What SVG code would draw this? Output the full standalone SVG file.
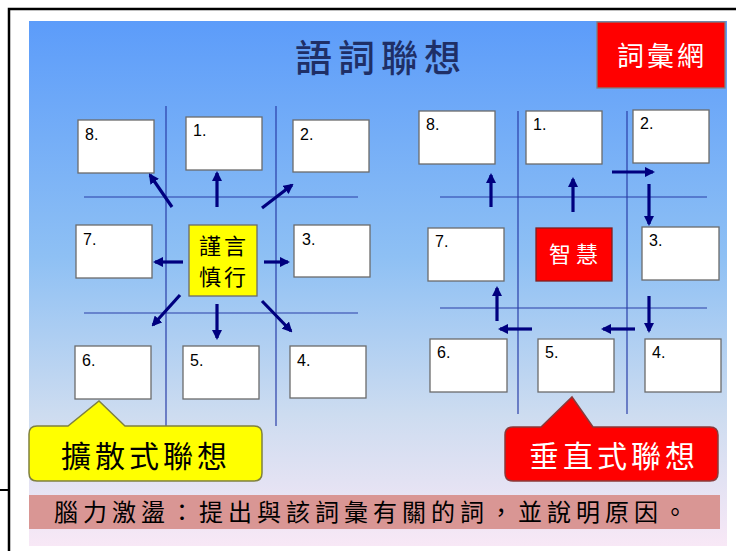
<svg xmlns="http://www.w3.org/2000/svg" width="736" height="551" viewBox="0 0 736 551">
<defs>
<linearGradient id="bg" x1="0" y1="0" x2="0" y2="1">
<stop offset="0" stop-color="#5c9cfa"/>
<stop offset="0.45" stop-color="#8ec0f4"/>
<stop offset="0.75" stop-color="#cddcf0"/>
<stop offset="1" stop-color="#f8e8f6"/>
</linearGradient>
<marker id="ah" viewBox="0 0 10 10" refX="8" refY="5" markerWidth="3.2" markerHeight="3.2" orient="auto" markerUnits="strokeWidth">
<path d="M0,0 L10,5 L0,10 z" fill="#00007f"/>
</marker>
<style>
.box{fill:#fff;stroke:#6b6b6b;stroke-width:1.3}
.num{font-family:"Liberation Sans",Arial,sans-serif;font-size:16px;fill:#000}
.grid{stroke:#2a3fa8;stroke-width:1.2;fill:none}
.arr{stroke:#00007f;stroke-width:3.2;fill:none;marker-end:url(#ah)}
.cjk{font-family:"Noto Sans CJK TC","Noto Sans CJK SC",sans-serif}
</style>
</defs>
<rect x="0" y="0" width="736" height="551" fill="#fff"/>
<path d="M9,551 V9 H736" stroke="#000" stroke-width="2.5" fill="none"/>
<line x1="0" y1="490" x2="9" y2="490" stroke="#000" stroke-width="2"/>
<rect x="29" y="21" width="698" height="525" fill="url(#bg)"/>
<text x="381" y="72" text-anchor="middle" class="cjk" font-size="37" font-weight="500" fill="#1f2f66" letter-spacing="6">語詞聯想</text>
<g id="vocab-net">
<rect x="597" y="22" width="128" height="66" fill="#ff0000" stroke="#7f7f7f" stroke-width="1.3"/>
<text x="662" y="66" text-anchor="middle" class="cjk" font-size="27" fill="#fff" letter-spacing="3">詞彙網</text>
</g>
<g id="grid-left">
<line class="grid" x1="166" y1="106" x2="166" y2="426"/>
<line class="grid" x1="276" y1="106" x2="276" y2="426"/>
<line class="grid" x1="84" y1="197" x2="358" y2="197"/>
<line class="grid" x1="84" y1="313" x2="358" y2="313"/>
</g>
<g id="grid-right">
<line class="grid" x1="518" y1="111" x2="518" y2="414"/>
<line class="grid" x1="627" y1="111" x2="627" y2="414"/>
<line class="grid" x1="440" y1="197" x2="707" y2="197"/>
<line class="grid" x1="440" y1="308" x2="707" y2="308"/>
</g>
<g id="L8"><rect class="box" x="78" y="120" width="76" height="53"/><text class="num" x="85" y="140">8.</text></g>
<g id="L1"><rect class="box" x="186" y="117" width="76" height="53"/><text class="num" x="193" y="136">1.</text></g>
<g id="L2"><rect class="box" x="293" y="120" width="76" height="52"/><text class="num" x="300" y="140">2.</text></g>
<g id="L7"><rect class="box" x="76" y="225" width="76" height="53"/><text class="num" x="83" y="245">7.</text></g>
<g id="L3"><rect class="box" x="294" y="225" width="76" height="52"/><text class="num" x="302" y="245">3.</text></g>
<g id="L6"><rect class="box" x="75" y="346" width="76" height="53"/><text class="num" x="82" y="366">6.</text></g>
<g id="L5"><rect class="box" x="183" y="346" width="76" height="53"/><text class="num" x="190" y="366">5.</text></g>
<g id="L4"><rect class="box" x="290" y="346" width="76" height="52"/><text class="num" x="297" y="366">4.</text></g>
<g id="L-center">
<rect x="189" y="225" width="68" height="71" fill="#ffff00" stroke="#6b6b6b" stroke-width="1.3"/>
<text x="224" y="254" text-anchor="middle" class="cjk" font-size="22" fill="#000" letter-spacing="3">謹言</text>
<text x="224" y="285" text-anchor="middle" class="cjk" font-size="22" fill="#000" letter-spacing="3">慎行</text>
</g>
<g id="R8"><rect class="box" x="419" y="111" width="76" height="53"/><text class="num" x="426" y="130">8.</text></g>
<g id="R1"><rect class="box" x="526" y="111" width="76" height="53"/><text class="num" x="533" y="130">1.</text></g>
<g id="R2"><rect class="box" x="633" y="110" width="76" height="53"/><text class="num" x="640" y="129">2.</text></g>
<g id="R7"><rect class="box" x="428" y="228" width="76" height="53"/><text class="num" x="435" y="247">7.</text></g>
<g id="R3"><rect class="box" x="642" y="227" width="77" height="53"/><text class="num" x="649" y="246">3.</text></g>
<g id="R6"><rect class="box" x="430" y="339" width="77" height="53"/><text class="num" x="437" y="358">6.</text></g>
<g id="R5"><rect class="box" x="538" y="339" width="76" height="53"/><text class="num" x="545" y="358">5.</text></g>
<g id="R4"><rect class="box" x="645" y="339" width="76" height="53"/><text class="num" x="652" y="358">4.</text></g>
<g id="R-center">
<rect x="536" y="228" width="76" height="53" fill="#ff0000" stroke="#7f1f1f" stroke-width="1.3"/>
<text x="576" y="262" text-anchor="middle" class="cjk" font-size="22" fill="#fff" letter-spacing="5">智慧</text>
</g>
<g id="connectors">
<line class="arr" x1="172" y1="207" x2="150" y2="175"/>
<line class="arr" x1="217" y1="207" x2="217" y2="173"/>
<line class="arr" x1="262" y1="208" x2="292" y2="185"/>
<line class="arr" x1="183" y1="262" x2="155" y2="262"/>
<line class="arr" x1="264" y1="262" x2="288" y2="262"/>
<line class="arr" x1="180" y1="295" x2="153" y2="325"/>
<line class="arr" x1="217" y1="304" x2="217" y2="338"/>
<line class="arr" x1="262" y1="301" x2="291" y2="331"/>
<line class="arr" x1="491" y1="207" x2="491" y2="175"/>
<line class="arr" x1="573" y1="212" x2="573" y2="179"/>
<line class="arr" x1="612" y1="172" x2="653" y2="172"/>
<line class="arr" x1="649" y1="184" x2="649" y2="224"/>
<line class="arr" x1="649" y1="296" x2="649" y2="331"/>
<line class="arr" x1="635" y1="329" x2="603" y2="329"/>
<line class="arr" x1="532" y1="329" x2="500" y2="329"/>
<line class="arr" x1="497" y1="321" x2="497" y2="288"/>
</g>
<g id="callout-left">
<path d="M37,426 H68 L99,401 L125,426 H254 Q262,426 262,434 V473 Q262,481 254,481 H37 Q29,481 29,473 V434 Q29,426 37,426 Z" fill="#ffff00" stroke="#7f8040" stroke-width="1.5"/>
<text x="146" y="467" text-anchor="middle" class="cjk" font-size="30" fill="#000" letter-spacing="4">擴散式聯想</text>
</g>
<g id="callout-right">
<path d="M513,427 H541 L572,397 L593,427 H710 Q718,427 718,435 V473 Q718,481 710,481 H513 Q505,481 505,473 V435 Q505,427 513,427 Z" fill="#ff0000" stroke="#8a3a3a" stroke-width="1.5"/>
<text x="614" y="467" text-anchor="middle" class="cjk" font-size="30" fill="#fff" letter-spacing="4">垂直式聯想</text>
</g>
<g id="banner">
<rect x="29" y="495" width="691" height="34" fill="#d99694"/>
<text x="54" y="521" class="cjk" font-size="24" fill="#000" letter-spacing="5">腦力激盪：提出與該詞彙有關的詞，並說明原因。</text>
</g>
</svg>
